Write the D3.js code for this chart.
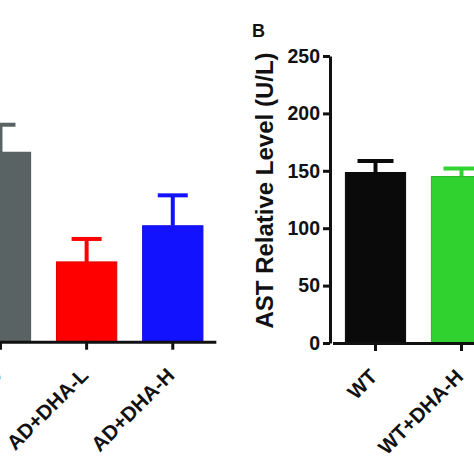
<!DOCTYPE html>
<html><head><meta charset="utf-8">
<script src="https://cdn.jsdelivr.net/npm/d3@7"></script>
<style>html,body{margin:0;padding:0;background:#fff;overflow:hidden}svg{display:block}</style>
</head><body>
<script>
// Panel A (partially visible)
const catsA = ["AD", "AD+DHA-L", "AD+DHA-H"];
const meanA = [165, 69.5, 101];
const errA  = [189, 89.5, 127.5];
const colorsA = ["#5a6363", "#ff0000", "#1212ff"];
// Panel B
const catsB = ["WT", "WT+DHA-H"];
const meanB = [148.5, 145];
const errB  = [158.5, 152];
const colorsB = ["#0a0a0a", "#30d230"];
const yTicks = [0, 50, 100, 150, 200, 250];

const W = 474, H = 474;
const svg = d3.select("body").append("svg").attr("width", W).attr("height", H);
const font = "'Liberation Sans', Arial, Helvetica, sans-serif";

function panel(cats, means, errs, colors, x0, step, baseY, capW) {
  const x = d3.scaleBand().domain(cats).range([x0, x0 + step * cats.length]).paddingInner(0.3).paddingOuter(0.15);
  const y = d3.scaleLinear().domain([0, 250]).range([baseY, baseY - 287]);
  const g = svg.append("g");
  const data = cats.map((c, i) => ({c, m: means[i], e: errs[i], col: colors[i]}));
  g.selectAll(".ev").data(data).join("line")
    .attr("x1", d => x(d.c) + x.bandwidth() / 2).attr("x2", d => x(d.c) + x.bandwidth() / 2)
    .attr("y1", d => y(d.m)).attr("y2", d => y(d.e))
    .attr("stroke", d => d.col).attr("stroke-width", 4);
  g.selectAll(".ec").data(data).join("line")
    .attr("x1", d => x(d.c) + x.bandwidth() / 2 - capW / 2).attr("x2", d => x(d.c) + x.bandwidth() / 2 + capW / 2)
    .attr("y1", d => y(d.e)).attr("y2", d => y(d.e))
    .attr("stroke", d => d.col).attr("stroke-width", 4);
  g.selectAll("rect").data(data).join("rect")
    .attr("x", d => x(d.c)).attr("width", x.bandwidth())
    .attr("y", d => y(d.m)).attr("height", d => baseY - y(d.m))
    .attr("fill", d => d.col).attr("stroke", d => d3.color(d.col).darker(0.4)).attr("stroke-width", 1);
  const xAxis = d3.axisBottom(x).tickSize(8).tickSizeOuter(0).tickFormat("");
  const xg = g.append("g").attr("transform", `translate(0,${baseY})`).call(xAxis);
  xg.select(".domain").attr("stroke", "#111").attr("stroke-width", 3);
  xg.selectAll(".tick line").attr("stroke", "#111").attr("stroke-width", 3);
  g.selectAll(".xl").data(cats).join("text")
    .attr("transform", d => `translate(${x(d) + x.bandwidth() / 2 + 3},${baseY + 35}) rotate(-45)`)
    .attr("text-anchor", "end").attr("font-family", font).attr("font-weight", "bold")
    .attr("font-size", 20.5).attr("fill", "#111").text(d => d);
  return {x, y, g};
}

const A = panel(catsA, meanA, errA, colorsA, -42.6, 86.15, 341.7, 30);
const B = panel(catsB, meanB, errB, colorsB, 332.5, 86, 343, 36);

const yAxis = d3.axisLeft(B.y).tickValues(yTicks).tickSize(7).tickPadding(3).tickSizeOuter(0);
const yg = svg.append("g").attr("transform", "translate(330,0)").call(yAxis);
yg.select(".domain").attr("stroke", "#111").attr("stroke-width", 3);
yg.selectAll(".tick line").attr("stroke", "#111").attr("stroke-width", 3);
yg.selectAll(".tick text").attr("font-family", font).attr("font-weight", "bold").attr("font-size", 19.5).attr("fill", "#111");

svg.append("text").attr("transform", "translate(273,190.5) rotate(-90)")
  .attr("text-anchor", "middle").attr("font-family", font).attr("font-weight", "bold")
  .attr("font-size", 24).attr("fill", "#111").text("AST Relative Level (U/L)");

svg.append("text").attr("x", 252).attr("y", 37).attr("font-family", font).attr("font-weight", "bold")
  .attr("font-size", 18).attr("fill", "#111").text("B");
</script>
</body></html>
